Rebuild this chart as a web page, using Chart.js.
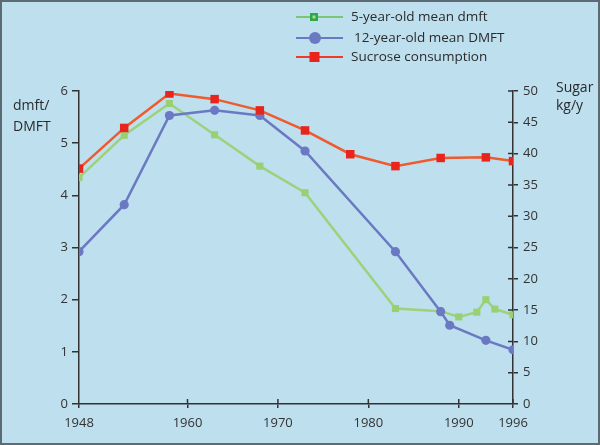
<!DOCTYPE html>
<html>
<head>
<meta charset="utf-8">
<script src="https://cdn.jsdelivr.net/npm/chart.js@4"></script>
<style>
  html, body { margin: 0; padding: 0; background: #bddfee; }
  #wrap { width: 600px; height: 445px; position: relative; }
</style>
</head>
<body>
<div id="wrap"><canvas id="cariesChart" width="600" height="445"></canvas></div>
<script>
// 5-year-old mean dmft
const dmftYears = [1948, 1953, 1958, 1963, 1968, 1973, 1983, 1988, 1990, 1992, 1993, 1994, 1996];
const dmftValues = [4.34, 5.15, 5.76, 5.16, 4.56, 4.05, 1.83, 1.78, 1.67, 1.76, 2.0, 1.82, 1.71];

// 12-year-old mean DMFT
const DMFTYears = [1948, 1953, 1958, 1963, 1968, 1973, 1983, 1988, 1989, 1993, 1996];
const DMFTValues = [2.92, 3.82, 5.53, 5.63, 5.53, 4.85, 2.92, 1.77, 1.51, 1.22, 1.04];

// sucrose consumption, kg per year
const sugarYears = [1948, 1953, 1958, 1963, 1968, 1973, 1978, 1983, 1988, 1993, 1996];
const sugarValues = [37.6, 44.1, 49.6, 48.7, 46.9, 43.7, 39.9, 38.0, 39.3, 39.4, 38.8];

const yearTicks = [1948, 1960, 1970, 1980, 1990, 1996];

const seriesNames = ['5-year-old mean dmft', '12-year-old mean DMFT', 'Sucrose consumption'];

const FONT = '"Open Sans", "Noto Sans", sans-serif';

function toPoints(xs, ys) {
    return xs.map((x, i) => ({ x: x, y: ys[i] }));
}

const backdrop = {
    id: 'backdrop',
    beforeDraw(chart) {
        const ctx = chart.ctx;
        ctx.save();
        ctx.fillStyle = '#bddfee';
        ctx.fillRect(0, 0, chart.width, chart.height);
        ctx.strokeStyle = '#5b6a73';
        ctx.lineWidth = 2;
        ctx.strokeRect(1, 1, chart.width - 2, chart.height - 2);
        ctx.restore();
    },
    beforeDatasetsDraw(chart) {
        // inner halves of the x and right-axis tick marks (they cross the axis line)
        const ctx = chart.ctx;
        const area = chart.chartArea;
        ctx.save();
        ctx.strokeStyle = '#333';
        ctx.lineWidth = 1.5;
        ctx.beginPath();
        chart.scales.x.ticks.forEach(t => {
            const px = chart.scales.x.getPixelForValue(t.value);
            if (t.value === 1948) return;
            ctx.moveTo(px, area.bottom);
            ctx.lineTo(px, area.bottom - 5);
        });
        chart.scales.y2.ticks.forEach(t => {
            if (t.value === 0) return;
            const py = chart.scales.y2.getPixelForValue(t.value);
            ctx.moveTo(area.right, py);
            ctx.lineTo(area.right - 5, py);
        });
        ctx.stroke();
        ctx.restore();
    },
    afterDraw(chart) {
        const ctx = chart.ctx;
        ctx.save();
        ctx.fillStyle = '#2b2b2b';
        ctx.font = '14px ' + FONT;
        ctx.textBaseline = 'middle';
        ctx.textAlign = 'left';
        ctx.fillText('dmft/', 13, 106);
        ctx.fillText('DMFT', 13, 127);
        ctx.fillText('Sugar', 556, 88);
        ctx.fillText('kg/y', 556, 106);

        // legend
        const rows = [17, 38, 57];
        const lineCols = ['#7cc576', '#6b79c2', '#ee3b2a'];
        ctx.font = '13.5px ' + FONT;
        rows.forEach((y, i) => {
            ctx.strokeStyle = lineCols[i];
            ctx.lineWidth = 2;
            ctx.beginPath();
            ctx.moveTo(296, y);
            ctx.lineTo(343, y);
            ctx.stroke();
            if (i === 0) {
                ctx.fillStyle = '#2da84a';
                ctx.fillRect(310, y - 4, 8, 8);
                ctx.fillStyle = '#a6dc8a';
                ctx.fillRect(312.5, y - 1.5, 3, 3);
            } else if (i === 1) {
                ctx.fillStyle = '#6b79c2';
                ctx.beginPath();
                ctx.arc(315, y, 6, 0, Math.PI * 2);
                ctx.fill();
            } else {
                ctx.fillStyle = '#e8241c';
                ctx.fillRect(309.5, y - 5, 10, 10);
            }
            ctx.fillStyle = '#2b2b2b';
            ctx.fillText(seriesNames[i], i === 1 ? 354 : 351, y);
        });
        ctx.restore();
    }
};

const data = {
    datasets: [
        {
            label: seriesNames[0],
            data: toPoints(dmftYears, dmftValues),
            yAxisID: 'y',
            borderColor: '#9dd27c',
            backgroundColor: '#98d072',
            pointBorderColor: '#98d072',
            borderWidth: 2.5,
            pointBorderWidth: 0,
            pointStyle: 'rect',
            pointRadius: 5,
            pointHoverRadius: 5,
            order: 3
        },
        {
            label: seriesNames[1],
            data: toPoints(DMFTYears, DMFTValues),
            yAxisID: 'y',
            borderColor: '#6b79c2',
            backgroundColor: '#6b79c2',
            pointBorderColor: '#6b79c2',
            borderWidth: 2.5,
            pointBorderWidth: 0,
            pointStyle: 'circle',
            pointRadius: 4.6,
            pointHoverRadius: 4.6,
            order: 2
        },
        {
            label: seriesNames[2],
            data: toPoints(sugarYears, sugarValues),
            yAxisID: 'y2',
            borderColor: '#ef5a2e',
            backgroundColor: '#e8241c',
            pointBorderColor: '#e8241c',
            borderWidth: 2.5,
            pointBorderWidth: 0,
            pointStyle: 'rect',
            pointRadius: 6,
            pointHoverRadius: 6,
            order: 1
        }
    ]
};

const tickFont = { family: FONT, size: 13 };

const config = {
    type: 'line',
    data: data,
    plugins: [backdrop],
    options: {
        responsive: false,
        animation: false,
        layout: { padding: { top: 91, left: 0, right: 0, bottom: 0 } },
        plugins: {
            legend: { display: false },
            tooltip: { enabled: false }
        },
        scales: {
            x: {
                type: 'linear',
                min: 1948,
                max: 1996,
                afterBuildTicks(scale) { scale.ticks = yearTicks.map(v => ({ value: v })); },
                afterFit(scale) { scale.height = 41; },
                border: { color: '#333', width: 1.5 },
                grid: { drawOnChartArea: false, tickLength: 4, color: '#333', lineWidth: 1.5 },
                ticks: {
                    color: '#333', font: tickFont, padding: 7, maxRotation: 0, autoSkip: false,
                    callback: v => String(v)
                }
            },
            y: {
                position: 'left',
                min: 0,
                max: 6,
                afterFit(scale) { scale.width = 79; },
                border: { color: '#333', width: 1.5 },
                grid: { drawOnChartArea: false, tickLength: 7, color: '#333', lineWidth: 1.5 },
                ticks: { stepSize: 1, color: '#333', font: tickFont, padding: 4 }
            },
            y2: {
                position: 'right',
                min: 0,
                max: 50,
                afterFit(scale) { scale.width = 87; },
                border: { color: '#333', width: 1.5 },
                grid: { drawOnChartArea: false, tickLength: 5, color: '#333', lineWidth: 1.5 },
                ticks: { stepSize: 5, color: '#333', font: tickFont, padding: 5 }
            }
        }
    }
};

new Chart(document.getElementById('cariesChart'), config);
</script>
</body>
</html>
